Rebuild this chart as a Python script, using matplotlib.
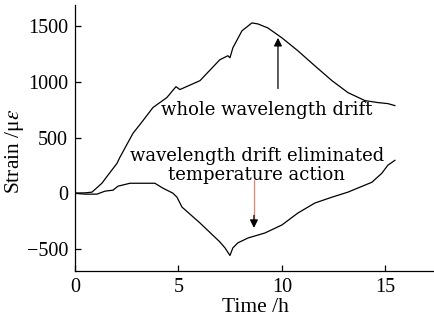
import matplotlib
matplotlib.use("Agg")
import matplotlib.pyplot as plt

# whole wavelength drift
t_whole = [0, 0.5, 0.82, 1.30, 1.59, 2.03, 2.17, 2.80, 3.29, 3.77, 4.44, 4.88, 5.07,
           6.04, 7.00, 7.39, 7.49, 7.63, 8.07, 8.55, 8.84, 9.32, 10.0, 10.77, 11.59,
           12.42, 13.19, 14.01, 14.64, 15.12, 15.46]
s_whole = [0, 3, 9, 89, 161, 268, 322, 537, 653, 770, 859, 957, 931,
           1011, 1199, 1235, 1217, 1306, 1459, 1530, 1521, 1485, 1396, 1280, 1145,
           1011, 904, 832, 814, 805, 787]

# wavelength drift eliminated temperature action
t_elim = [0, 0.48, 1.06, 1.45, 1.84, 2.08, 2.66, 3.24, 3.72, 3.86, 4.25, 4.73, 4.93,
          5.17, 6.04, 7.00, 7.25, 7.49, 7.63, 7.87, 8.36, 9.18, 10.0, 10.77, 11.59,
          12.42, 13.19, 14.01, 14.35, 14.83, 15.12, 15.46]
s_elim = [0, -9, -9, 18, 27, 63, 89, 89, 89, 89, 45, 0, -36,
          -125, -268, -438, -492, -560, -492, -447, -403, -358, -286, -179, -89,
          -36, 9, 72, 98, 179, 251, 295]

xticks = [0, 5, 10, 15]
yticks = [-500, 0, 500, 1000, 1500]

plt.rcParams['font.family'] = ['Liberation Serif', 'DejaVu Serif']
plt.rcParams['mathtext.fontset'] = 'stix'
TXT = ['DejaVu Serif']

fig = plt.figure(figsize=(4.35, 3.2), dpi=100)
ax = fig.add_axes([0.1724, 0.153, 0.8276, 0.831])

ax.plot(t_whole, s_whole, color='black', lw=0.9)
ax.plot(t_elim, s_elim, color='black', lw=0.9)

ax.set_xlim(0, 17.4)
ax.set_ylim(-700, 1690)
ax.set_xticks(xticks)
ax.set_yticks(yticks)
ax.set_xticklabels([str(v) for v in xticks])
ax.set_yticklabels(['\u2212500', '0', '500', '1000', '1500'])
for s in ['top', 'right']:
    ax.spines[s].set_visible(False)
for s in ['left', 'bottom']:
    ax.spines[s].set_linewidth(0.9)
ax.tick_params(direction='in', length=4, width=0.9, labelsize=14.5, pad=5)

ax.set_xlabel('Time /h', fontsize=15.5, labelpad=1)
ax.set_ylabel('Strain /\u03bc$\\varepsilon$', fontsize=15.5, labelpad=4)
ax.yaxis.set_label_coords(-0.135, 0.45)

ax.text(9.28, 743, 'whole wavelength drift', fontsize=13, family=TXT,
        ha='center', va='center')
ax.text(8.79, 250, 'wavelength drift eliminated\ntemperature action', fontsize=13,
        family=TXT, ha='center', va='center', linespacing=1.1)

ax.annotate('', xy=(9.81, 1396), xytext=(9.81, 940),
            arrowprops=dict(arrowstyle='-|>', color='black', lw=0.9,
                            mutation_scale=12, shrinkA=0, shrinkB=0))
ax.plot([8.65, 8.65], [116, -230], color='#f08070', lw=0.9)
ax.annotate('', xy=(8.65, -313), xytext=(8.65, -200),
            arrowprops=dict(arrowstyle='-|>', color='black', lw=0.9,
                            mutation_scale=12, shrinkA=0, shrinkB=0))

fig.savefig('out.png', dpi=100)
